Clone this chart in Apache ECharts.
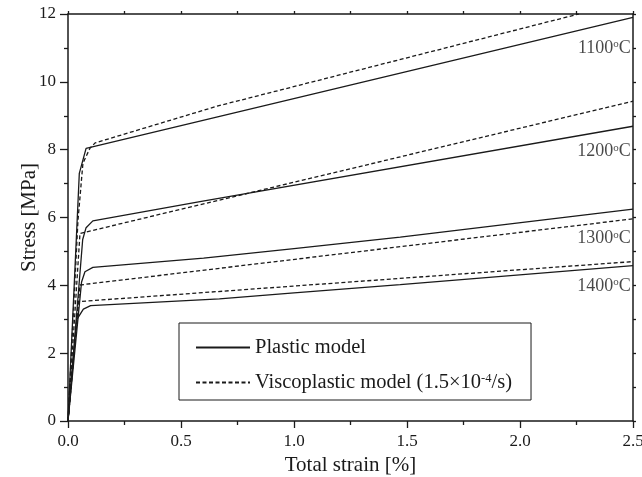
<!DOCTYPE html>
<html>
<head>
<meta charset="utf-8">
<script src="https://cdn.jsdelivr.net/npm/echarts@6/dist/echarts.min.js"></script>
<style>
  html, body { margin: 0; padding: 0; background: #fff; }
  #main { width: 642px; height: 477px; }
</style>
</head>
<body>
<div id="main"></div>
<script>
  // strain [%], stress [MPa]
  var plastic1100 = [[0, 0], [0.05, 7.3], [0.08, 8.04], [2.5, 11.9]];
  var visco1100 = [[0, 0], [0.044, 5.9], [0.066, 7.6], [0.097, 8.04], [0.12, 8.2], [0.664, 9.29], [2.26, 12]];
  var plastic1200 = [[0, 0], [0.065, 5.35], [0.08, 5.7], [0.11, 5.9], [0.584, 6.47], [2.5, 8.69]];
  var visco1200 = [[0, 0], [0.053, 5.53], [2.5, 9.43]];
  var plastic1300 = [[0, 0], [0.06, 4.1], [0.075, 4.4], [0.11, 4.53], [0.6, 4.8], [1.0, 5.08], [1.47, 5.42], [2.5, 6.25]];
  var visco1300 = [[0, 0], [0.053, 4.01], [2.5, 5.96]];
  var plastic1400 = [[0, 0], [0.038, 2.98], [0.068, 3.3], [0.1, 3.4], [0.67, 3.6], [1.0, 3.78], [1.47, 4.02], [2.5, 4.58]];
  var visco1400 = [[0, 0], [0.046, 3.52], [2.5, 4.7]];

  var tempNames = ['1100', '1200', '1300', '1400'];
  var tempLabelAt = [[2.49, 11.0], [2.49, 7.94], [2.49, 5.39], [2.49, 3.98]];

  var font = 'Liberation Serif';
  var ink = '#1a1a1a';

  function solid(data) {
    return {
      type: 'line', name: 'Plastic model', data: data, symbol: 'none',
      lineStyle: {color: ink, width: 1.3, type: 'solid'}, itemStyle: {color: ink}
    };
  }
  function dashed(data) {
    return {
      type: 'line', name: 'Viscoplastic model', data: data, symbol: 'none',
      lineStyle: {color: ink, width: 1.3, type: [4, 2.5]}, itemStyle: {color: ink}
    };
  }

  var chart = echarts.init(document.getElementById('main'));
  chart.setOption({
    animation: false,
    backgroundColor: '#fff',
    grid: {left: 68, right: 9, top: 14, bottom: 56, containLabel: false, outerBoundsMode: 'none'},
    legend: {
      orient: 'vertical', left: 179, top: 323,
      data: ['Plastic model', 'Viscoplastic model'],
      itemWidth: 54, itemHeight: 14, itemGap: 14,
      padding: [14, 19, 7, 16],
      borderColor: ink, borderWidth: 1,
      itemStyle: {color: 'transparent', borderWidth: 0, opacity: 0},
      formatter: function (name) {
        return name === 'Plastic model' ? name : 'Viscoplastic model (1.5×10{sup|-4}/s)';
      },
      textStyle: {
        fontFamily: font, fontSize: 20.5, color: ink,
        rich: {sup: {fontFamily: font, fontSize: 12.5, color: ink, verticalAlign: 'top', lineHeight: 10}}
      }
    },
    xAxis: [{
      type: 'value', min: 0, max: 2.5, interval: 0.5,
      name: 'Total strain [%]', nameLocation: 'middle', nameGap: 34, nameMoveOverlap: false,
      nameTextStyle: {fontFamily: font, fontSize: 21, color: ink},
      axisLine: {onZero: false, lineStyle: {color: ink, width: 1.5}},
      axisTick: {length: 7, lineStyle: {color: ink, width: 1.3}},
      minorTick: {show: true, splitNumber: 2, length: 4, lineStyle: {color: ink, width: 1.3}},
      axisLabel: {fontFamily: font, fontSize: 17, color: ink, margin: 12,
        formatter: function (v) { return v.toFixed(1); }},
      splitLine: {show: false}
    }, {
      type: 'value', position: 'top', min: 0, max: 2.5, interval: 0.25,
      axisLine: {onZero: false, lineStyle: {color: ink, width: 1.5}},
      axisTick: {length: 3, lineStyle: {color: ink, width: 1.3}},
      axisLabel: {show: false}, splitLine: {show: false}
    }],
    yAxis: [{
      type: 'value', min: 0, max: 12, interval: 2,
      name: 'Stress [MPa]', nameLocation: 'middle', nameGap: 28, nameMoveOverlap: false,
      nameTextStyle: {fontFamily: font, fontSize: 21, color: ink},
      axisLine: {show: true, onZero: false, lineStyle: {color: ink, width: 1.5}},
      axisTick: {show: true, length: 8, lineStyle: {color: ink, width: 1.3}},
      minorTick: {show: true, splitNumber: 2, length: 4, lineStyle: {color: ink, width: 1.3}},
      axisLabel: {fontFamily: font, fontSize: 17, color: ink, margin: 12},
      splitLine: {show: false}
    }, {
      type: 'value', position: 'right', min: 0, max: 12, interval: 1,
      axisLine: {show: true, onZero: false, lineStyle: {color: ink, width: 1.5}},
      axisTick: {show: true, length: 3, lineStyle: {color: ink, width: 1.3}},
      axisLabel: {show: false}, splitLine: {show: false}
    }],
    series: [
      solid(plastic1100), dashed(visco1100),
      solid(plastic1200), dashed(visco1200),
      solid(plastic1300), dashed(visco1300),
      solid(plastic1400), dashed(visco1400),
      {
        type: 'scatter', name: 'temps', symbolSize: 0, silent: true,
        data: tempLabelAt.map(function (p, i) { return {value: p, name: tempNames[i]}; }),
        label: {
          show: true, position: 'inside', align: 'right', verticalAlign: 'middle',
          formatter: function (p) { return p.name + '{sup|o}C'; },
          fontFamily: font, fontSize: 18, color: ink,
          rich: {sup: {fontFamily: font, fontSize: 11, color: ink, verticalAlign: 'top', lineHeight: 12}}
        }
      }
    ]
  });
</script>
</body>
</html>
